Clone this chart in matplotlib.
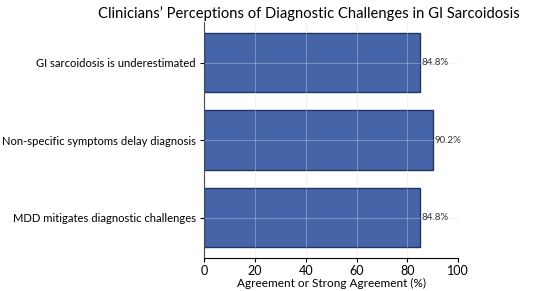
import matplotlib
matplotlib.use("Agg")
import matplotlib.pyplot as plt

categories = ["GI sarcoidosis is underestimated",
              "Non-specific symptoms delay diagnosis",
              "MDD mitigates diagnostic challenges"]
values = [84.8, 90.2, 84.8]
xticks = [0, 20, 40, 60, 80, 100]

plt.rcParams['font.family'] = ['Lato', 'DejaVu Sans']

fig = plt.figure(figsize=(5.5, 2.91), dpi=100)
ax = fig.add_axes([0.371, 0.113, 0.462, 0.811])

ypos = list(range(len(categories)))
ax.barh(ypos, values, height=0.77, color="#4565a8", edgecolor="#1f3566", linewidth=1.0, zorder=2)
ax.invert_yaxis()
ax.set_yticks(ypos)
ax.set_yticklabels(categories, fontsize=8.1)
ax.set_xlim(0, 100)
ax.set_xticks(xticks)
ax.tick_params(axis='x', labelsize=9, length=3, pad=2)
ax.tick_params(axis='y', length=3, pad=3)
ax.grid(True, color="#dddddd", linewidth=0.8, alpha=0.35, zorder=3)
ax.set_axisbelow(False)
for s in ["top", "right"]:
    ax.spines[s].set_visible(False)
ax.set_xlabel("Agreement or Strong Agreement (%)", fontsize=8.5, labelpad=1)

for y, v in zip(ypos, values):
    ax.text(v + 0.6, y, f"{v}%", va="center", ha="left", fontsize=7, color="#333333", zorder=4)

fig.text(0.562, 0.955, "Clinicians’ Perceptions of Diagnostic Challenges in GI Sarcoidosis",
         ha="center", va="center", fontsize=10.6)

fig.savefig("out.png", dpi=100)
